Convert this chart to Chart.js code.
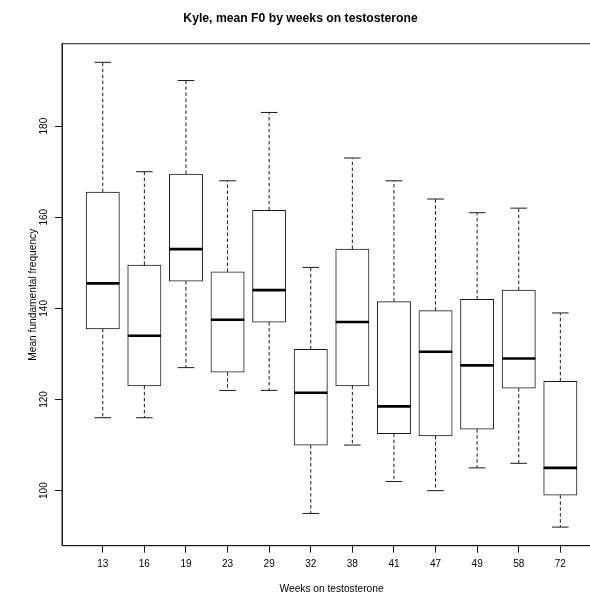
<!DOCTYPE html>
<html>
<head>
<meta charset="utf-8">
<script src="https://cdn.jsdelivr.net/npm/chart.js@4.4.0/dist/chart.umd.min.js"></script>
<style>
  html, body { margin: 0; padding: 0; background: #fff; overflow: hidden; }
  #wrap { position: relative; width: 640px; height: 600px; }
</style>
</head>
<body>
<div id="wrap"><canvas id="c" width="640" height="600"></canvas></div>
<script>
// Weeks on testosterone (one box per session group)
const weeks = ['13', '16', '19', '23', '29', '32', '38', '41', '47', '49', '58', '72'];
// Five-number summaries of mean F0 (Hz)
const whiskerLow  = [116, 116, 127, 122, 122,  95, 110, 102, 100, 105, 106,  92];
const quartile1   = [135.5, 123, 146, 126, 137, 110, 123, 112.5, 112, 113.5, 122.5, 99];
const medians     = [145.5, 134, 153, 137.5, 144, 121.5, 137, 118.5, 130.5, 127.5, 129, 105];
const quartile3   = [165.5, 149.5, 169.5, 148, 161.5, 131, 153, 141.5, 139.5, 142, 144, 124];
const whiskerHigh = [194, 170, 190, 168, 183, 149, 173, 168, 164, 161, 162, 139];
const yTicks = [100, 120, 140, 160, 180];

// Axis limits padded by 4% of the range on each side
const lo = Math.min(...whiskerLow), hi = Math.max(...whiskerHigh);
const yPad = (hi - lo) * 0.04;
const xLo = 0.5, xHi = weeks.length + 0.5, xPad = (xHi - xLo) * 0.04;

const INK = '#1a1a1a';
const FONT = 'Liberation Sans, Arial, Helvetica, sans-serif';
const BOX_WIDTH = 33.3;

// Whiskers, staples, medians and the surrounding frame
const boxParts = {
  id: 'boxParts',
  afterDatasetsDraw(chart) {
    const { ctx, chartArea: a, scales: { x, y } } = chart;
    const half = BOX_WIDTH / 2, staple = half / 2;
    const seg = (x1, y1, x2, y2) => { ctx.beginPath(); ctx.moveTo(x1, y1); ctx.lineTo(x2, y2); ctx.stroke(); };
    ctx.save();
    ctx.strokeStyle = INK;
    weeks.forEach((w, i) => {
      const px = x.getPixelForValue(i + 1);
      const yl = y.getPixelForValue(whiskerLow[i]);
      const y1 = y.getPixelForValue(quartile1[i]);
      const ym = y.getPixelForValue(medians[i]);
      const y3 = y.getPixelForValue(quartile3[i]);
      const yh = y.getPixelForValue(whiskerHigh[i]);
      ctx.lineWidth = 1;
      ctx.setLineDash([3.5, 2.5]);
      seg(px, y3, px, yh);
      seg(px, y1, px, yl);
      ctx.setLineDash([]);
      seg(px - staple, yh, px + staple, yh);
      seg(px - staple, yl, px + staple, yl);
      ctx.lineWidth = 2.6;
      ctx.strokeStyle = '#000';
      seg(px - half, ym, px + half, ym);
      ctx.strokeStyle = INK;
    });
    ctx.lineWidth = 1;
    ctx.strokeRect(a.left, a.top, a.right - a.left, a.bottom - a.top);
    ctx.restore();
  }
};

new Chart(document.getElementById('c'), {
  type: 'bar',
  data: {
    datasets: [{
      data: weeks.map((w, i) => ({ x: i + 1, y: [quartile1[i], quartile3[i]] })),
      backgroundColor: '#ffffff',
      borderColor: INK,
      borderWidth: 1,
      borderSkipped: false,
      barThickness: BOX_WIDTH
    }]
  },
  options: {
    responsive: false,
    animation: false,
    devicePixelRatio: 1,
    layout: { padding: { left: 0, right: 38.9, top: 0, bottom: 0 } },
    plugins: {
      legend: { display: false },
      tooltip: { enabled: false },
      title: {
        display: true,
        text: 'Kyle, mean F0 by weeks on testosterone',
        color: '#000',
        font: { family: FONT, size: 12.2, weight: 'bold' },
        padding: { top: 11.6, bottom: 17.5 }
      }
    },
    scales: {
      x: {
        type: 'linear',
        min: xLo - xPad,
        max: xHi + xPad,
        offset: false,
        afterBuildTicks: s => { s.ticks = weeks.map((w, i) => ({ value: i + 1 })); },
        afterFit: s => { s.height = 54.3; },
        grid: { display: true, drawOnChartArea: false, drawTicks: true, tickLength: 7, color: INK, offset: false },
        border: { display: true, color: INK },
        ticks: {
          autoSkip: false, maxRotation: 0, minRotation: 0, padding: 5.8,
          color: '#000', font: { family: FONT, size: 10 },
          callback: v => weeks[v - 1]
        },
        title: {
          display: true, text: 'Weeks on testosterone', color: '#000',
          font: { family: FONT, size: 10.2 }, padding: { top: 0, bottom: 5 }
        }
      },
      y: {
        type: 'linear',
        min: lo - yPad,
        max: hi + yPad,
        afterBuildTicks: s => { s.ticks = yTicks.map(v => ({ value: v })); },
        afterFit: s => { s.width = 62; },
        grid: { display: true, drawOnChartArea: false, drawTicks: true, tickLength: 7, color: INK },
        border: { display: true, color: INK },
        ticks: {
          minRotation: 90, maxRotation: 90, crossAlign: 'center', padding: 2,
          color: '#000', font: { family: FONT, size: 10 },
          callback: v => String(v)
        },
        title: {
          display: true, text: 'Mean fundamental frequency', color: '#000',
          font: { family: FONT, size: 10.2 }, padding: { top: 27, bottom: 0 }
        }
      }
    }
  },
  plugins: [boxParts]
});
</script>
</body>
</html>
